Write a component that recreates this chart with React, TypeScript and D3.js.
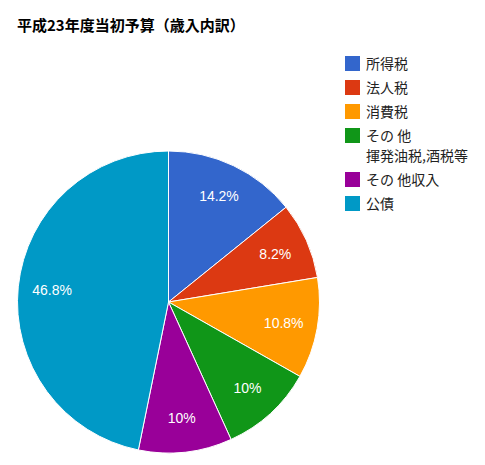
import React from "react";
import * as d3 from "d3";

const categories: string[][] = [
  ["所得税"],
  ["法人税"],
  ["消費税"],
  ["その 他", "揮発油税,酒税等"],
  ["その 他収入"],
  ["公債"],
];
const values: number[] = [14.2, 8.2, 10.8, 10, 10, 46.8];
const sliceLabels: string[] = ["14.2%", "8.2%", "10.8%", "10%", "10%", "46.8%"];
const colors: string[] = ["#3366cc", "#dc3912", "#ff9900", "#109618", "#990099", "#0099c6"];
const title = "平成23年度当初予算（歳入内訳）";

export default function App() {
  const W = 485;
  const H = 465;
  const cx = 168.5;
  const cy = 302;
  const r = 151;

  const pie = d3.pie<number>().sort(null).value((d) => d);
  const arcs = pie(values);
  const arc = d3.arc<d3.PieArcDatum<number>>().innerRadius(0).outerRadius(r);
  const labelArc = d3
    .arc<d3.PieArcDatum<number>>()
    .innerRadius(r * 0.775)
    .outerRadius(r * 0.775);

  // legend layout
  const legendX = 345;
  const legendTextX = 366;
  let y = 56;
  const rows = categories.map((lines, i) => {
    const top = y;
    y += 24 + (lines.length - 1) * 20;
    return { lines, top, color: colors[i] };
  });

  const cjk = "'Noto Sans CJK JP', 'Noto Sans', sans-serif";

  return (
    <svg
      width={W}
      height={H}
      style={{ position: "absolute", left: 0, top: 0, background: "#fff" }}
    >
      <text
        x={17}
        y={30.5}
        fontFamily={cjk}
        fontSize={15}
        fontWeight="bold"
        fill="#000"
      >
        {title}
      </text>
      <g transform={`translate(${cx},${cy})`}>
        {arcs.map((a, i) => (
          <path
            key={i}
            d={arc(a) || ""}
            fill={colors[i]}
            stroke="#fff"
            strokeWidth={1}
          />
        ))}
        {arcs.map((a, i) => {
          const [lx, ly] = labelArc.centroid(a);
          return (
            <text
              key={i}
              x={lx}
              y={ly}
              dy="0.36em"
              textAnchor="middle"
              fontFamily="'Liberation Sans', Arial, sans-serif"
              fontSize={14}
              fill="#fff"
            >
              {sliceLabels[i]}
            </text>
          );
        })}
      </g>
      <g>
        {rows.map((row, i) => (
          <g key={i}>
            <rect x={legendX} y={row.top} width={15} height={15} fill={row.color} />
            {row.lines.map((ln, j) => (
              <text
                key={j}
                x={legendTextX}
                y={row.top + 7.5 + 5.3 + j * 20}
                fontFamily={cjk}
                fontSize={14}
                fill="#222"
              >
                {ln}
              </text>
            ))}
          </g>
        ))}
      </g>
    </svg>
  );
}
